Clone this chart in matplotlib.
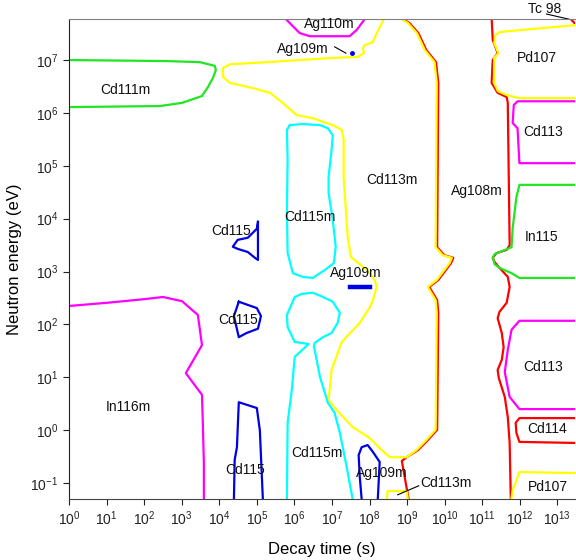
import numpy as np
import matplotlib
matplotlib.use("Agg")
import matplotlib.pyplot as plt
from matplotlib.ticker import LogLocator, NullLocator

# contour traces, as log10(decay time [s]) and log10(energy [eV])
cd111m_t = [0.0, 2.61, 3.48, 3.88, 3.91, 3.83, 3.70, 3.54, 3.01, 2.42, 0.0]
cd111m_e = [7.00, 6.98, 6.96, 6.89, 6.81, 6.66, 6.49, 6.32, 6.19, 6.13, 6.11]

cd113m_t = [8.40, 8.27, 8.14, 8.09, 7.87, 7.82, 7.85, 7.69, 7.02, 6.14, 5.27, 4.28, 4.10, 4.10,
            4.28, 4.89, 5.35, 5.69, 6.06, 6.49, 7.02, 7.26, 7.31, 7.31, 7.42, 7.50, 7.93, 8.14,
            8.19, 8.09, 8.01, 7.74, 7.26, 6.99, 6.91, 7.13, 7.55, 8.01, 8.27, 8.54, 8.99, 9.26,
            9.52, 9.76, 9.79, 9.76, 9.60, 9.55, 9.79, 10.13, 10.19, 9.95, 9.76, 9.79, 9.73, 9.47,
            9.26, 9.02, 8.80]
cd113m_e = [7.80, 7.62, 7.43, 7.34, 7.28, 7.23, 7.13, 7.06, 7.04, 7.00, 6.96, 6.92, 6.85, 6.68,
            6.57, 6.47, 6.38, 6.19, 5.96, 5.90, 5.77, 5.68, 5.49, 4.79, 3.65, 3.28, 3.03, 2.84,
            2.71, 2.46, 2.33, 2.03, 1.67, 1.14, 0.57, 0.38, 0.06, -0.15, -0.34, -0.51, -0.51, -0.37,
            -0.18, 0.01, 2.22, 2.46, 2.65, 2.71, 2.84, 3.16, 3.26, 3.31, 3.46, 6.57, 6.96, 7.19,
            7.51, 7.70, 7.80]

ag108m_left_t = [9.04, 8.86, 8.99, 9.30, 9.56, 9.80, 9.83, 9.80, 9.64, 9.59, 9.83, 10.17, 10.23,
                 9.99, 9.80, 9.83, 9.77, 9.51, 9.30, 9.06, 8.84]
ag108m_left_e = [-1.30, -0.58, -0.51, -0.37, -0.18, 0.01, 2.22, 2.46, 2.65, 2.71, 2.84, 3.16, 3.26,
                 3.31, 3.46, 6.57, 6.96, 7.19, 7.51, 7.70, 7.80]

ag108m_right_t = [11.25, 11.28, 11.41, 11.28, 11.25, 11.41, 11.65, 11.68, 11.73, 11.65, 11.38, 11.28,
                  11.33, 11.41, 11.68, 11.73, 11.65, 11.46, 11.41, 11.52, 11.57, 11.52, 11.41,
                  11.44, 11.60, 11.68, 11.73, 11.76]
ag108m_right_e = [7.80, 7.38, 7.13, 7.00, 6.57, 6.38, 6.30, 6.19, 3.50, 3.41, 3.35, 3.26, 3.18, 3.11,
                  2.90, 2.71, 2.41, 2.24, 2.12, 1.84, 1.57, 1.33, 1.14, 0.99, 0.63, 0.25, -0.24, -1.30]

pd107_top_t = [13.48, 11.46, 11.35, 11.32, 11.43, 11.32, 11.31, 11.42, 11.68, 11.99, 13.48]
pd107_top_e = [7.66, 7.53, 7.47, 7.32, 7.13, 7.04, 6.57, 6.41, 6.33, 6.28, 6.28]

cd113_top_t = [13.48, 11.94, 11.84, 11.81, 11.94, 11.99, 13.48]
cd113_top_e = [6.22, 6.22, 6.15, 5.81, 5.71, 5.05, 5.05]

in115_t = [13.48, 11.99, 11.91, 11.81, 11.78, 11.54, 11.33, 11.28, 11.33, 11.46, 11.78, 11.99, 13.48]
in115_e = [4.64, 4.64, 4.41, 3.82, 3.46, 3.39, 3.33, 3.26, 3.14, 3.07, 2.97, 2.88, 2.88]

cd113_low_t = [13.48, 11.99, 11.78, 11.68, 11.60, 11.73, 11.99, 13.48]
cd113_low_e = [2.07, 2.07, 1.90, 1.52, 1.10, 0.63, 0.40, 0.40]

cd114_t = [13.48, 11.99, 11.89, 11.91, 11.99, 13.48]
cd114_e = [0.23, 0.23, 0.14, -0.05, -0.22, -0.24]

pd107_low_t = [13.48, 11.99, 11.91, 11.81, 11.78]
pd107_low_e = [-0.81, -0.79, -0.94, -1.13, -1.28]

tc98_t = [13.35, 13.48]
tc98_e = [7.78, 7.68]

ag110m_t = [5.74, 5.93, 6.14, 6.41, 7.47, 7.66, 7.90]
ag110m_e = [7.80, 7.66, 7.51, 7.45, 7.45, 7.57, 7.80]

cd115m_up_t = [5.88, 6.22, 6.68, 6.89, 7.02, 6.99, 6.91, 6.91, 7.02, 7.10, 7.05, 6.81, 6.49, 6.22,
               5.96, 5.82, 5.80, 5.82, 5.80, 5.88]
cd115m_up_e = [5.77, 5.79, 5.77, 5.71, 5.58, 5.30, 4.79, 4.49, 3.98, 3.47, 3.16, 3.03, 2.88, 2.90,
               2.97, 3.35, 4.16, 5.11, 5.68, 5.77]

cd115m_low_t = [5.80, 5.82, 5.93, 6.01, 6.38, 6.01, 5.82, 5.80, 6.01, 6.20, 6.49, 6.76, 7.02, 7.21,
                7.15, 6.99, 6.76, 6.54, 6.52, 6.68, 6.89, 7.07, 7.21, 7.39, 7.55]
cd115m_low_e = [-1.30, 0.14, 0.76, 1.39, 1.63, 1.67, 1.95, 2.18, 2.52, 2.58, 2.60, 2.52, 2.43, 2.22,
                2.03, 1.84, 1.76, 1.65, 1.59, 1.01, 0.52, 0.33, -0.05, -0.69, -1.30]

ag109m_low_t = [7.79, 7.74, 7.71, 7.79, 7.95, 8.09, 8.27, 8.22]
ag109m_low_e = [-1.30, -0.88, -0.47, -0.32, -0.28, -0.41, -0.60, -1.30]

ag109m_mid_t = [7.47, 8.01]
ag109m_mid_e = [2.71, 2.71]

ag109m_dot_t = [7.53]
ag109m_dot_e = [7.13]

cd113m_low_t = [8.46, 8.48, 8.99, 9.02]
cd113m_low_e = [-1.30, -1.15, -1.15, -1.30]

cd115_tri_t = [5.03, 5.03, 4.95, 4.76, 4.49, 4.36, 4.49, 4.76, 5.00, 5.03]
cd115_tri_e = [3.94, 3.22, 3.26, 3.37, 3.43, 3.47, 3.60, 3.64, 3.81, 3.94]

cd115_pent_t = [4.52, 5.00, 5.11, 5.03, 4.73, 4.52, 4.39, 4.52]
cd115_pent_e = [2.43, 2.31, 2.16, 1.92, 1.84, 1.76, 2.16, 2.43]

cd115_low_t = [4.39, 4.41, 4.47, 4.52, 5.00, 5.08, 5.16]
cd115_low_e = [-1.30, -0.56, -0.32, 0.53, 0.42, 0.00, -1.30]

in116m_t = [0.0, 1.01, 2.02, 2.50, 3.01, 3.43, 3.54, 3.11, 3.54, 3.56, 3.59, 3.59]
in116m_e = [2.35, 2.41, 2.48, 2.52, 2.44, 2.18, 1.61, 1.08, 0.67, 0.19, -0.62, -1.30]

YEL = "#ffff00"
RED = "#ff0000"
MAG = "#ff00ff"
GRN = "#22e622"
CYA = "#00ffff"
BLU = "#0000e6"
LW = 1.6

plt.rcParams["font.family"] = ["Liberation Sans", "DejaVu Sans"]

fig = plt.figure(figsize=(5.76, 5.6), dpi=100)
ax = fig.add_axes([0.1198, 0.1089, 0.8785, 0.8571])


def line(t, e, color, lw=LW, **kw):
    ax.plot(10.0 ** np.array(t), 10.0 ** np.array(e), color=color, lw=lw, **kw)


line(ag108m_left_t, ag108m_left_e, RED)
line(ag108m_right_t, ag108m_right_e, RED)
line(tc98_t, tc98_e, RED)
line(cd114_t, cd114_e, RED)
line(cd113m_t, cd113m_e, YEL)
line(pd107_top_t, pd107_top_e, YEL)
line(pd107_low_t, pd107_low_e, YEL)
line(cd113m_low_t, cd113m_low_e, YEL)
line(cd111m_t, cd111m_e, GRN)
line(in115_t, in115_e, GRN)
line(cd113_top_t, cd113_top_e, MAG)
line(cd113_low_t, cd113_low_e, MAG)
line(ag110m_t, ag110m_e, MAG)
line(in116m_t, in116m_e, MAG)
line(cd115m_up_t, cd115m_up_e, CYA)
line(cd115m_low_t, cd115m_low_e, CYA)
line(ag109m_low_t, ag109m_low_e, BLU)
line(ag109m_mid_t, ag109m_mid_e, BLU, lw=3.2)
line(cd115_tri_t, cd115_tri_e, BLU)
line(cd115_pent_t, cd115_pent_e, BLU)
line(cd115_low_t, cd115_low_e, BLU)
ax.plot(10.0 ** np.array(ag109m_dot_t), 10.0 ** np.array(ag109m_dot_e), "o", color=BLU, ms=2.5)

# nuclide labels
labels = [
    ("Cd111m", 1.49, 6.43), ("Ag110m", 6.94, 7.68), ("Ag109m", 6.22, 7.21),
    ("Pd107", 12.45, 7.04), ("Cd113", 12.63, 5.64), ("Cd113m", 8.59, 4.73),
    ("Ag108m", 10.85, 4.52), ("In115", 12.58, 3.65), ("Cd115m", 6.41, 4.03),
    ("Cd115", 4.31, 3.77), ("Ag109m", 7.63, 2.97), ("Cd115", 4.49, 2.09),
    ("Cd113", 12.61, 1.20), ("In116m", 1.57, 0.44), ("Cd114", 12.74, 0.02),
    ("Cd115m", 6.60, -0.43), ("Cd115", 4.68, -0.75), ("Ag109m", 8.32, -0.81),
    ("Cd113m", 10.03, -1.00), ("Pd107", 12.74, -1.07),
]
for name, lt, le in labels:
    ax.text(10 ** lt, 10 ** le, name, ha="center", va="center", fontsize=10, color="#111111")

ax.text(10 ** 12.66, 10 ** 7.96, "Tc 98", ha="center", va="center", fontsize=10,
        color="#111111", clip_on=False)
ax.plot([10 ** 12.71, 10 ** 13.32], [10 ** 7.87, 10 ** 7.77], color="black", lw=0.8, clip_on=False)
ax.plot([10 ** 7.07, 10 ** 7.37], [10 ** 7.25, 10 ** 7.13], color="black", lw=0.8)
ax.plot([10 ** 8.75, 10 ** 9.31], [10 ** -1.22, 10 ** -1.05], color="black", lw=0.8)

ax.set_xscale("log")
ax.set_yscale("log")
ax.set_xlim(1, 10 ** 13.47)
ax.set_ylim(10 ** -1.30, 10 ** 7.775)
ax.xaxis.set_major_locator(LogLocator(base=10, numticks=20))
ax.yaxis.set_major_locator(LogLocator(base=10, numticks=20))
ax.xaxis.set_minor_locator(NullLocator())
ax.yaxis.set_minor_locator(NullLocator())
ax.tick_params(direction="out", length=4, width=0.8, labelsize=10, colors="#222222")

ax.spines["left"].set_color("#222222")
ax.spines["bottom"].set_color("#444444")
ax.spines["top"].set_color("#808080")
ax.spines["right"].set_visible(False)

ax.set_xlabel("Decay time (s)", fontsize=12, labelpad=10)
ax.set_ylabel("Neutron energy (eV)", fontsize=12, labelpad=6)

fig.savefig("out.png", dpi=100)
